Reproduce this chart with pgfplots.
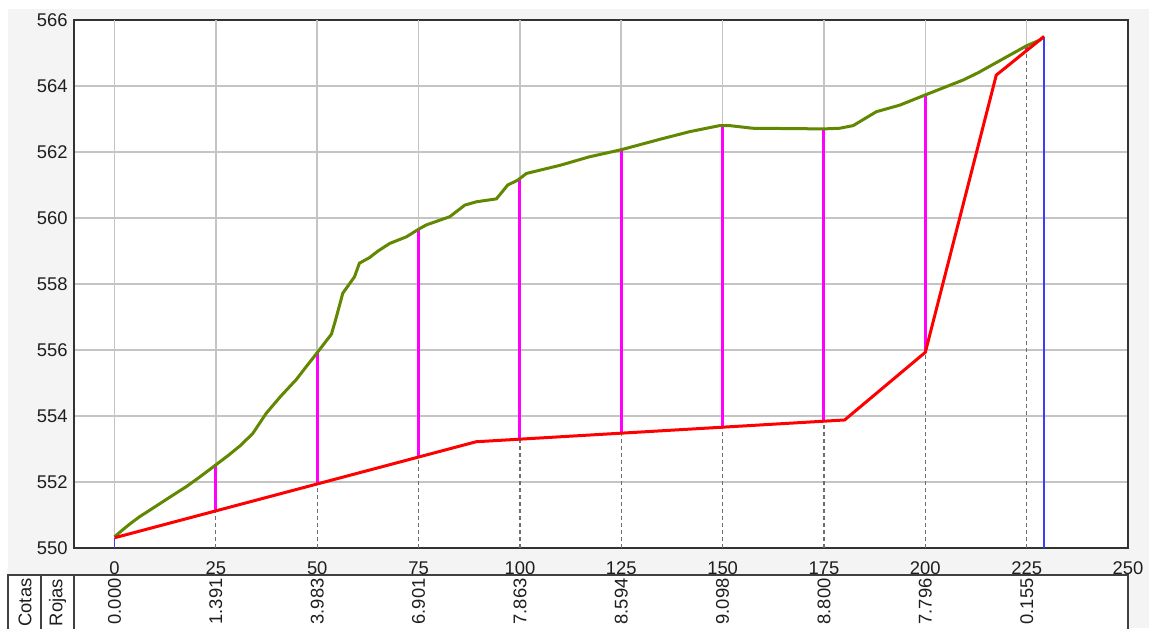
\documentclass[border=0pt]{standalone}
\usepackage{fontspec}
\setmainfont{Liberation Sans}
\usepackage{pgfplots}
\pgfplotsset{compat=1.18}
\definecolor{terrain}{RGB}{98,135,0}
\definecolor{panel}{RGB}{244,244,244}
\definecolor{gridc}{RGB}{196,196,196}
\definecolor{dashc}{RGB}{110,110,110}
\definecolor{txt}{RGB}{30,30,30}
\definecolor{rasante}{RGB}{255,0,0}
\definecolor{cota}{RGB}{255,0,255}
\definecolor{eje}{RGB}{60,60,255}
\newcommand{\tfont}{\fontsize{9.2}{10}\selectfont}
\begin{document}
\begin{tikzpicture}
\useasboundingbox (-37pt,-40pt) rectangle (537.5pt,274pt);
\fill[white] (-37pt,-40pt) rectangle (537.5pt,274pt);
\fill[panel] (-33pt,-40pt) rectangle (537.5pt,269.5pt);
\fill[white] (-33pt,-13.5pt) rectangle (527pt,-40pt);
\draw[black!75, line width=1pt] (-33pt,-41pt) -- (-33pt,-13.5pt) -- (527pt,-13.5pt) -- (527pt,-41pt);
\draw[black!75, line width=1pt] (-16.5pt,-13.5pt) -- (-16.5pt,-41pt);
\draw[black!75, line width=1pt] (0pt,-13.5pt) -- (0pt,-41pt);
\node[rotate=90, font=\tfont, text=txt] at (-24.5pt,-27.25pt) {Cotas};
\node[rotate=90, font=\tfont, text=txt] at (-8.25pt,-27.25pt) {Rojas};
\begin{axis}[
  at={(0pt,0pt)}, anchor=south west,
  scale only axis, width=527pt, height=264pt,
  xmin=-10, xmax=250, ymin=550, ymax=566,
  xtick={0,25,50,75,100,125,150,175,200,225,250},
  ytick={550,552,554,556,558,560,562,564,566},
  ymajorgrids, major grid style={gridc, line width=0.8pt},
  major tick length=0pt,
  axis background/.style={fill=white},
  axis line style={black!80, line width=1pt},
  tick label style={font=\tfont, text=txt},
  /pgf/number format/assume math mode=true,
  xticklabel style={anchor=north, inner sep=0pt, yshift=-6.5pt},
  yticklabel style={anchor=east, inner sep=0pt, xshift=-3pt},
  clip=false, unbounded coords=jump,
]
% solid vertical grid above terrain
\addplot[gridc, line width=0.8pt, forget plot] coordinates {
 (0,550.34)(0,566) (0,nan)
 (25,552.52)(25,566) (25,nan)
 (50,555.92)(50,566) (50,nan)
 (75,559.66)(75,566) (75,nan)
 (100,561.16)(100,566) (100,nan)
 (125,562.07)(125,566) (125,nan)
 (150,562.76)(150,566) (150,nan)
 (175,562.68)(175,566) (175,nan)
 (200,563.73)(200,566) (200,nan)
 (225,565.22)(225,566)
};
% dashed station lines below terrain
\addplot[dashc, line width=0.6pt, dash pattern=on 2pt off 1.5pt, forget plot] coordinates {
 (25,550)(25,552.52) (25,nan)
 (50,550)(50,555.92) (50,nan)
 (75,550)(75,559.66) (75,nan)
 (100,550)(100,561.16) (100,nan)
 (125,550)(125,562.07) (125,nan)
 (150,550)(150,562.76) (150,nan)
 (175,550)(175,562.68) (175,nan)
 (200,550)(200,563.73) (200,nan)
 (225,550)(225,565.22)
};
% cotas rojas (magenta)
\addplot[cota, line width=1.5pt, forget plot] coordinates {
 (25,551.13)(25,552.52) (25,nan)
 (50,551.94)(50,555.92) (50,nan)
 (75,552.76)(75,559.66) (75,nan)
 (100,553.30)(100,561.16) (100,nan)
 (125,553.48)(125,562.07) (125,nan)
 (150,553.66)(150,562.76) (150,nan)
 (175,553.84)(175,562.68) (175,nan)
 (200,555.93)(200,563.73) (200,nan)
 (225,565.07)(225,565.22)
};
% blue start/end lines
\addplot[eje, line width=0.8pt, forget plot] coordinates {
 (0,550)(0,550.31) (0,nan)
 (229.3,550)(229.3,565.5)
};
% terrain
\addplot[terrain, line width=1.5pt, forget plot] coordinates {
(0,550.34)(2,550.55)(4,550.75)(6.2,550.95)(10,551.25)(14,551.57)(17.7,551.86)
(21,552.15)(25,552.52)(28,552.8)(31,553.1)(34.1,553.47)(37.4,554.08)(41,554.6)
(44.8,555.1)(47,555.45)(50,555.92)(53.5,556.48)(54.5,556.9)(56.3,557.72)
(59.2,558.22)(60.4,558.63)(62.9,558.8)(65,559.0)(67.9,559.23)(72,559.43)
(75,559.66)(76.9,559.79)(82.7,560.04)(86.4,560.39)(89.2,560.49)(94.2,560.58)
(97,561.0)(99.5,561.15)(101.6,561.35)(110,561.6)(117,561.85)(125,562.07)
(135,562.4)(142,562.62)(149.3,562.8)(151.7,562.8)(157.4,562.72)(175,562.70)
(178.9,562.72)(182.2,562.8)(187.9,563.22)(193.7,563.42)(200,563.73)
(209.3,564.18)(213,564.4)(218.4,564.77)(225,565.22)(228.2,565.39)(229.3,565.5)
};
% rasante
\addplot[rasante, line width=1.5pt, forget plot] coordinates {
(0,550.31)(89.2,553.22)(180.1,553.88)(200,555.93)(217.5,564.33)(229.3,565.5)
};
% cotas rojas table
\node[rotate=90, anchor=east, inner sep=0pt, font=\tfont, text=txt] at (axis cs:0,549.09) {0.000};
\node[rotate=90, anchor=east, inner sep=0pt, font=\tfont, text=txt] at (axis cs:25,549.09) {1.391};
\node[rotate=90, anchor=east, inner sep=0pt, font=\tfont, text=txt] at (axis cs:50,549.09) {3.983};
\node[rotate=90, anchor=east, inner sep=0pt, font=\tfont, text=txt] at (axis cs:75,549.09) {6.901};
\node[rotate=90, anchor=east, inner sep=0pt, font=\tfont, text=txt] at (axis cs:100,549.09) {7.863};
\node[rotate=90, anchor=east, inner sep=0pt, font=\tfont, text=txt] at (axis cs:125,549.09) {8.594};
\node[rotate=90, anchor=east, inner sep=0pt, font=\tfont, text=txt] at (axis cs:150,549.09) {9.098};
\node[rotate=90, anchor=east, inner sep=0pt, font=\tfont, text=txt] at (axis cs:175,549.09) {8.800};
\node[rotate=90, anchor=east, inner sep=0pt, font=\tfont, text=txt] at (axis cs:200,549.09) {7.796};
\node[rotate=90, anchor=east, inner sep=0pt, font=\tfont, text=txt] at (axis cs:225,549.09) {0.155};
\end{axis}
\end{tikzpicture}
\end{document}
